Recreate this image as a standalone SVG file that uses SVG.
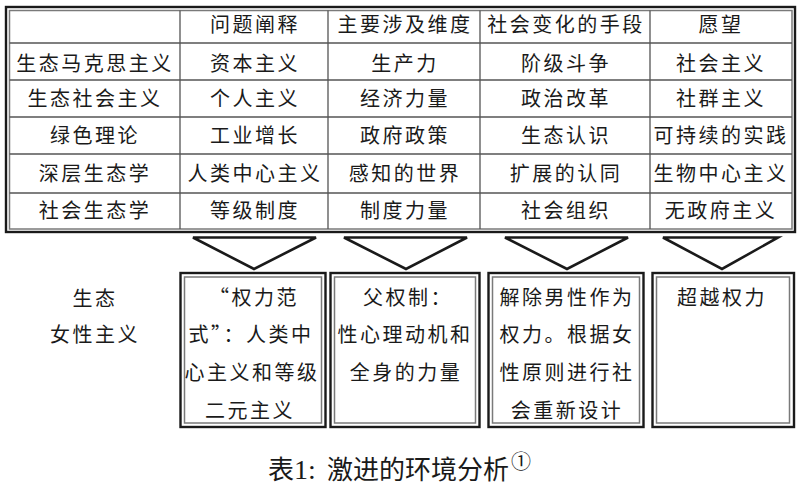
<svg xmlns="http://www.w3.org/2000/svg" width="800" height="489" viewBox="0 0 800 489">
<style>
  text { font-family: "Noto Sans CJK SC", "Noto Sans", sans-serif; fill: #1a1a1a; }
  .t { font-size: 20px; letter-spacing: 2.5px; text-anchor: middle; }
  .outer { fill: none; stroke: #1a1a1a; stroke-width: 2.4; }
  .inner { fill: none; stroke: #7a7a7a; stroke-width: 1.5; }
  .grid { stroke: #555; stroke-width: 1.3; fill: none; }
  .tri { fill: none; stroke: #1a1a1a; stroke-width: 2.6; stroke-linejoin: miter; }
</style>
<rect width="800" height="489" fill="#fff"/>

<g id="table">
  <rect class="outer" x="6" y="7" width="789" height="225"/>
  <rect class="inner" x="9.5" y="10.5" width="782.5" height="218.5"/>
  <path class="grid" d="M180 10.5V229 M328 10.5V229 M480 10.5V229 M650 10.5V229 M9.5 43H792 M9.5 80H792 M9.5 117H792 M9.5 154H792 M9.5 193H792"/>
  <g class="t">
    <text x="255" y="32">问题阐释</text>
    <text x="405" y="32">主要涉及维度</text>
    <text x="566" y="32">社会变化的手段</text>
    <text x="721" y="32">愿望</text>

    <text x="95" y="70.5">生态马克思主义</text>
    <text x="255" y="70.5">资本主义</text>
    <text x="405" y="70.5">生产力</text>
    <text x="566" y="70.5">阶级斗争</text>
    <text x="721" y="70.5">社会主义</text>

    <text x="95" y="106">生态社会主义</text>
    <text x="255" y="106">个人主义</text>
    <text x="405" y="106">经济力量</text>
    <text x="566" y="106">政治改革</text>
    <text x="721" y="106">社群主义</text>

    <text x="95" y="143">绿色理论</text>
    <text x="255" y="143">工业增长</text>
    <text x="405" y="143">政府政策</text>
    <text x="566" y="143">生态认识</text>
    <text x="721" y="143">可持续的实践</text>

    <text x="95" y="181">深层生态学</text>
    <text x="255" y="181">人类中心主义</text>
    <text x="405" y="181">感知的世界</text>
    <text x="566" y="181">扩展的认同</text>
    <text x="721" y="181">生物中心主义</text>

    <text x="95" y="218">社会生态学</text>
    <text x="255" y="218">等级制度</text>
    <text x="405" y="218">制度力量</text>
    <text x="566" y="218">社会组织</text>
    <text x="721" y="218">无政府主义</text>
  </g>
</g>

<g id="connectors">
  <path class="tri" d="M193 237.5H316L254 269Z"/>
  <path class="tri" d="M344 237.5H467L406 269Z"/>
  <path class="tri" d="M505 237.5H628L567 269Z"/>
  <path class="tri" d="M663 237.5H778L722 269Z"/>
</g>

<g id="label-ecofeminism" class="t">
  <text x="95" y="305.5">生态</text>
  <text x="95" y="341.5">女性主义</text>
</g>

<g id="box1">
  <rect class="outer" x="180.5" y="273" width="145" height="154"/>
  <rect class="inner" x="184.5" y="277" width="137" height="146"/>
  <g class="t">
    <text x="254" y="305">“权力范</text>
    <text x="251" y="342">式”：人类中</text>
    <text x="252" y="380">心主义和等级</text>
    <text x="250" y="418">二元主义</text>
  </g>
</g>

<g id="box2">
  <rect class="outer" x="330.5" y="273" width="149" height="154"/>
  <rect class="inner" x="334.5" y="277" width="141" height="146"/>
  <g class="t">
    <text x="408" y="305">父权制：</text>
    <text x="405" y="342">性心理动机和</text>
    <text x="406" y="380">全身的力量</text>
  </g>
</g>

<g id="box3">
  <rect class="outer" x="488.5" y="273" width="155" height="154"/>
  <rect class="inner" x="492.5" y="277" width="147" height="146"/>
  <g class="t">
    <text x="567" y="305">解除男性作为</text>
    <text x="567" y="342">权力。根据女</text>
    <text x="567" y="380">性原则进行社</text>
    <text x="567" y="418">会重新设计</text>
  </g>
</g>

<g id="box4">
  <rect class="outer" x="652.5" y="273" width="141.5" height="154"/>
  <rect class="inner" x="656.5" y="277" width="133" height="146"/>
  <g class="t">
    <text x="722" y="305">超越权力</text>
  </g>
</g>

<g id="caption">
  <text x="268" y="479" font-size="26">表<tspan font-family="Liberation Serif, serif" font-size="28">1:</tspan><tspan x="327">激进的环境分析</tspan><tspan x="511" y="469" font-size="20">①</tspan></text>
</g>
</svg>
